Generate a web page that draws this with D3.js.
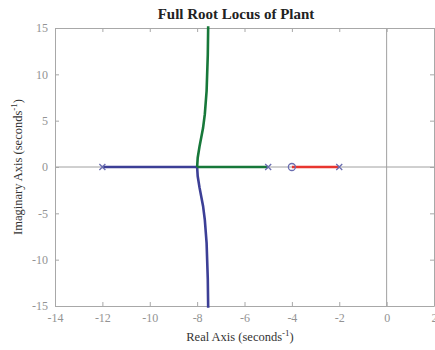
<!DOCTYPE html>
<html>
<head>
<meta charset="utf-8">
<script src="https://cdn.jsdelivr.net/npm/d3@7"></script>
<style>
  body { margin: 0; background: #fff; }
  svg text { font-family: "Liberation Serif", "DejaVu Serif", serif; }
</style>
</head>
<body>
<div id="chart"></div>
<script>
// poles and zero of the plant
var poles = [-12, -5, -2];
var zeros = [-4];

// real-axis segments of the locus
var blueReal = [[-12, 0], [-8, 0]];
var greenReal = [[-5, 0], [-8, 0]];
var redReal = [[-2, 0], [-4, 0]];

// complex branches (real, imag)
var greenUpper = [[-8, 0], [-7.975, 1.0], [-7.9, 2.2], [-7.75, 4.2], [-7.675, 5.7], [-7.6, 8.2], [-7.55, 12.1], [-7.533, 15.2]];
var blueLower = greenUpper.map(function (p) { return [p[0], -p[1]]; });

var xTicks = [-14, -12, -10, -8, -6, -4, -2, 0, 2];
var yTicks = [-15, -10, -5, 0, 5, 10, 15];

var svgWidth = 435, svgHeight = 350;
var margin = { top: 28, right: 1, bottom: 44, left: 55 };
var width = 434 - margin.left;
var height = 306 - margin.top;

var svg = d3.select("#chart").append("svg")
  .attr("width", svgWidth)
  .attr("height", svgHeight);

var chartGroup = svg.append("g")
  .attr("transform", `translate(${margin.left}, ${margin.top})`);

var x = d3.scaleLinear().domain([-14, 2]).range([0, width]);
var y = d3.scaleLinear().domain([-15, 15]).range([height, 0]);

var frameColor = "#a8a8a8";
var labelColor = "#939393";

// reference lines at the axes
chartGroup.append("line")
  .attr("x1", 0).attr("x2", width)
  .attr("y1", y(0)).attr("y2", y(0))
  .attr("stroke", "#a0a0a0").attr("stroke-width", 1);
chartGroup.append("line")
  .attr("x1", x(0)).attr("x2", x(0))
  .attr("y1", 0).attr("y2", height)
  .attr("stroke", "#a0a0a0").attr("stroke-width", 1);

// axes with ticks pointing inwards, plain hyphen minus signs
var fmt = function (d) { return String(d); };
var xAxis = d3.axisBottom(x).tickValues(xTicks).tickSize(-4).tickSizeOuter(0).tickPadding(7).tickFormat(fmt);
var yAxis = d3.axisLeft(y).tickValues(yTicks).tickSize(-4).tickSizeOuter(0).tickPadding(7).tickFormat(fmt);
var xTop = d3.axisTop(x).tickValues(xTicks).tickSize(-4).tickSizeOuter(0).tickFormat("");
var yRight = d3.axisRight(y).tickValues(yTicks).tickSize(-4).tickSizeOuter(0).tickFormat("");

function styleAxis(g) {
  g.select(".domain").attr("stroke", frameColor);
  g.selectAll(".tick line").attr("stroke", frameColor);
  g.selectAll(".tick text")
    .attr("fill", labelColor)
    .style("font-size", "12px")
    .style("font-family", "'Liberation Serif', serif");
}

chartGroup.append("g").attr("transform", `translate(0, ${height})`).call(xAxis).call(styleAxis);
chartGroup.append("g").call(yAxis).call(styleAxis);
chartGroup.append("g").call(xTop).call(styleAxis);
chartGroup.append("g").attr("transform", `translate(${width}, 0)`).call(yRight).call(styleAxis);

// locus branches
var line = d3.line()
  .x(function (d) { return x(d[0]); })
  .y(function (d) { return y(d[1]); });

var branches = [
  { pts: blueReal, color: "#3c3f96" },
  { pts: blueLower, color: "#3c3f96" },
  { pts: greenReal, color: "#17783a" },
  { pts: greenUpper, color: "#17783a" },
  { pts: redReal, color: "#e8352f" }
];

chartGroup.append("g")
  .selectAll("path")
  .data(branches)
  .enter()
  .append("path")
  .attr("d", function (d) { return line(d.pts); })
  .attr("fill", "none")
  .attr("stroke", function (d) { return d.color; })
  .attr("stroke-width", 2.6);

// pole markers (x)
var markColor = "#6a6db0";
var m = 3;
chartGroup.append("g")
  .selectAll("path")
  .data(poles)
  .enter()
  .append("path")
  .attr("d", function (d) {
    var cx = x(d), cy = y(0);
    return `M${cx - m},${cy - m}L${cx + m},${cy + m}M${cx - m},${cy + m}L${cx + m},${cy - m}`;
  })
  .attr("stroke", markColor)
  .attr("stroke-width", 1.3);

// zero marker (o)
chartGroup.append("g")
  .selectAll("circle")
  .data(zeros)
  .enter()
  .append("circle")
  .attr("cx", function (d) { return x(d); })
  .attr("cy", y(0))
  .attr("r", 3.5)
  .attr("fill", "none")
  .attr("stroke", markColor)
  .attr("stroke-width", 1.3);

// title and axis labels
svg.append("text")
  .attr("x", 236)
  .attr("y", 19)
  .attr("text-anchor", "middle")
  .style("font-size", "15px")
  .style("font-weight", "bold")
  .attr("fill", "#222")
  .text("Full Root Locus of Plant");

var xl = svg.append("text")
  .attr("x", 240)
  .attr("y", 341)
  .attr("text-anchor", "middle")
  .style("font-size", "12.5px")
  .attr("fill", "#333");
xl.append("tspan").text("Real Axis (seconds");
xl.append("tspan").attr("dy", -5).style("font-size", "9px").text("-1");
xl.append("tspan").attr("dy", 5).text(")");

var yl = svg.append("text")
  .attr("transform", `translate(22, ${margin.top + height / 2}) rotate(-90)`)
  .attr("text-anchor", "middle")
  .style("font-size", "12.5px")
  .attr("fill", "#333");
yl.append("tspan").text("Imaginary Axis (seconds");
yl.append("tspan").attr("dy", -5).style("font-size", "9px").text("-1");
yl.append("tspan").attr("dy", 5).text(")");
</script>
</body>
</html>
